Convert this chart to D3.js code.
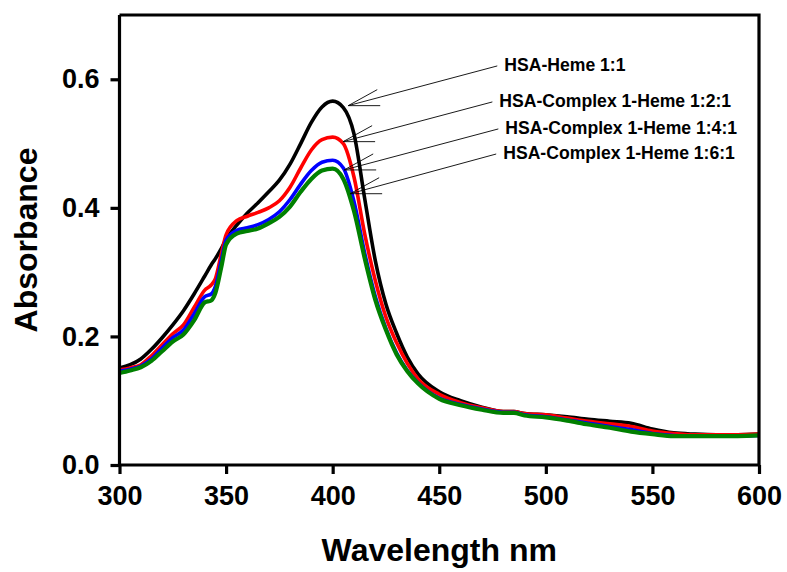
<!DOCTYPE html>
<html>
<head>
<meta charset="utf-8">
<script src="https://cdn.jsdelivr.net/npm/d3@7"></script>
<style>
  body { margin: 0; background: #fff; }
  svg { font-family: "Liberation Sans", Arial, sans-serif; }
</style>
</head>
<body>
<svg id="chart"></svg>
<script>
// wavelengths (nm) shared by all spectra
const wavelengths = [300,305,310,315,320,325,330,335,340,343,345,348,350,355,360,365,370,375,380,385,390,395,400,405,410,415,420,425,430,435,440,450,460,470,480,485,490,500,510,520,530,540,550,560,570,580,590,600];

const heme11 = [0.151,0.156,0.165,0.180,0.198,0.218,0.240,0.266,0.294,0.311,0.321,0.338,0.351,0.373,0.392,0.408,0.425,0.443,0.468,0.500,0.533,0.557,0.566,0.556,0.515,0.415,0.318,0.250,0.205,0.168,0.142,0.114,0.100,0.090,0.083,0.083,0.080,0.078,0.075,0.071,0.068,0.065,0.056,0.050,0.048,0.047,0.047,0.048];
const cplx121 = [0.148,0.151,0.156,0.170,0.187,0.204,0.218,0.245,0.272,0.280,0.290,0.332,0.358,0.380,0.387,0.393,0.400,0.411,0.432,0.462,0.490,0.506,0.510,0.500,0.448,0.360,0.287,0.230,0.190,0.158,0.134,0.110,0.097,0.089,0.083,0.083,0.080,0.078,0.073,0.068,0.064,0.060,0.053,0.049,0.047,0.047,0.047,0.048];
const cplx141 = [0.146,0.149,0.154,0.165,0.182,0.198,0.210,0.235,0.262,0.266,0.278,0.322,0.350,0.365,0.369,0.374,0.382,0.394,0.413,0.437,0.458,0.471,0.474,0.462,0.410,0.330,0.262,0.212,0.174,0.147,0.128,0.104,0.094,0.087,0.082,0.082,0.078,0.075,0.070,0.065,0.060,0.055,0.049,0.046,0.045,0.045,0.045,0.046];
const cplx161 = [0.143,0.147,0.152,0.162,0.177,0.192,0.203,0.225,0.253,0.256,0.268,0.312,0.343,0.360,0.364,0.368,0.376,0.386,0.402,0.425,0.445,0.458,0.461,0.445,0.395,0.322,0.257,0.210,0.172,0.146,0.127,0.103,0.093,0.086,0.081,0.081,0.077,0.074,0.069,0.063,0.058,0.052,0.048,0.045,0.045,0.045,0.045,0.046];

const seriesNames = ["HSA-Heme 1:1", "HSA-Complex 1-Heme 1:2:1", "HSA-Complex 1-Heme 1:4:1", "HSA-Complex 1-Heme 1:6:1"];
const seriesValues = [heme11, cplx121, cplx141, cplx161];
const seriesColors = ["#000000", "#ff0000", "#0000ff", "#008000"];

// annotation: label anchor and arrow tip, in data units (nm, absorbance)
const labelX = [480.5, 478.2, 481.0, 480.0];
const labelY = [0.613, 0.557, 0.515, 0.476];
const tipX = [407.3, 404.9, 405.4, 408.2];
const tipY = [0.559, 0.503, 0.459, 0.422];

const xTicks = [300, 350, 400, 450, 500, 550, 600];
const yTicks = [0.0, 0.2, 0.4, 0.6];

const width = 787, height = 572;
const margin = { top: 15, right: 28, bottom: 107, left: 119.5 };
const innerW = width - margin.left - margin.right;
const innerH = height - margin.top - margin.bottom;

const svg = d3.select("#chart").attr("width", width).attr("height", height);
const g = svg.append("g").attr("transform", `translate(${margin.left},${margin.top})`);

const x = d3.scaleLinear().domain([300, 600]).range([0, innerW]);
const y = d3.scaleLinear().domain([0, 0.7]).range([innerH, 0]);

// curves
const line = d3.line()
    .x(d => x(d[0]))
    .y(d => y(d[1]))
    .curve(d3.curveMonotoneX);

seriesValues.forEach((vals, i) => {
    g.append("path")
        .datum(wavelengths.map((w, j) => [w, vals[j]]))
        .attr("fill", "none")
        .attr("stroke", seriesColors[i])
        .attr("stroke-width", i == 3 ? 4.2 : 3.6)
        .attr("stroke-linejoin", "round")
        .attr("d", line);
});

// frame (top + right)
g.append("path")
    .attr("d", `M0,0H${innerW}V${innerH}`)
    .attr("fill", "none")
    .attr("stroke", "#000")
    .attr("stroke-width", 3.2);

// axes
const xAxis = g.append("g")
    .attr("transform", `translate(0,${innerH})`)
    .call(d3.axisBottom(x).tickValues(xTicks).tickSize(9).tickPadding(12).tickFormat(d3.format("d")));
const yAxis = g.append("g")
    .call(d3.axisLeft(y).tickValues(yTicks).tickSize(9).tickPadding(11).tickFormat(d3.format(".1f")));

[xAxis, yAxis].forEach(ax => {
    ax.select(".domain").attr("stroke-width", 3.2).attr("d", ax === xAxis ? `M0,0H${innerW}` : `M0,0V${innerH}`);
    ax.selectAll(".tick line").attr("stroke-width", 3.2);
    ax.selectAll(".tick text")
        .attr("font-size", 27)
        .attr("font-weight", "bold")
        .attr("fill", "#000")
        .style("font-family", "'Liberation Sans', Arial, sans-serif");
});

// axis titles
svg.append("text")
    .attr("x", margin.left + innerW / 2)
    .attr("y", 561)
    .attr("text-anchor", "middle")
    .attr("font-size", 32)
    .attr("font-weight", "bold")
    .text("Wavelength nm");

svg.append("text")
    .attr("transform", `translate(37,${margin.top + y(0.35)}) rotate(-90)`)
    .attr("text-anchor", "middle")
    .attr("font-size", 32)
    .attr("font-weight", "bold")
    .text("Absorbance");

// labels with arrows
seriesNames.forEach((name, i) => {
    const lx = x(labelX[i]), ly = y(labelY[i]);
    const tx = x(tipX[i]), ty = y(tipY[i]);
    g.append("text")
        .attr("x", lx)
        .attr("y", ly)
        .attr("font-size", 17.6)
        .attr("font-weight", "bold")
        .text(name);
    g.append("path")
        .attr("d", `M${lx - 7},${ly - 5}L${tx},${ty}M${tx + 29},${ty - 16}L${tx},${ty}L${tx + 32},${ty}`)
        .attr("fill", "none")
        .attr("stroke", "#000")
        .attr("stroke-width", 0.9);
});
</script>
</body>
</html>
